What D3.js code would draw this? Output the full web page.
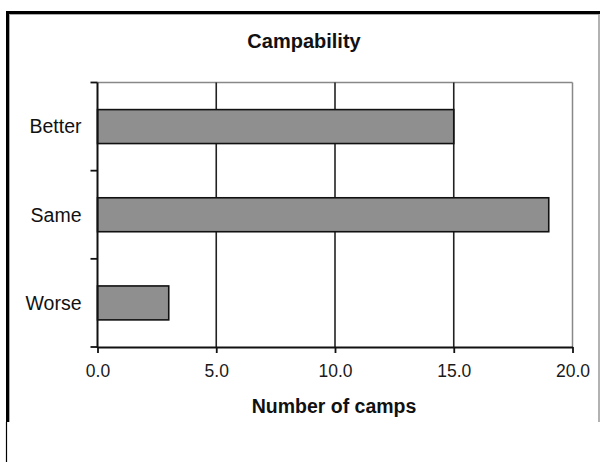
<!DOCTYPE html>
<html><head><meta charset="utf-8">
<script src="https://cdn.jsdelivr.net/npm/d3@7"></script>
<style>html,body{margin:0;padding:0;background:#fff;}svg{display:block;}text{font-family:"Liberation Sans",Arial,sans-serif;}</style>
</head><body>
<svg id="c" width="600" height="462"></svg>
<script>
const categories = ["Better", "Same", "Worse"];
const values = [15, 19, 3];
const xTicks = [0, 5, 10, 15, 20];
const title = "Campability";
const xTitle = "Number of camps";

const svg = d3.select("#c");
const m = {left: 97.5, right: 572.5, top: 82.5, bottom: 347};

// frame
svg.append("line").attr("x1", 6).attr("x2", 600).attr("y1", 12.5).attr("y2", 12.5).attr("stroke", "#000").attr("stroke-width", 3);
svg.append("line").attr("x1", 7.5).attr("x2", 7.5).attr("y1", 11).attr("y2", 422).attr("stroke", "#000").attr("stroke-width", 3);
svg.append("line").attr("x1", 9.5).attr("x2", 599).attr("y1", 14.5).attr("y2", 14.5).attr("stroke", "#aaa").attr("stroke-width", 1);
svg.append("line").attr("x1", 9.5).attr("x2", 9.5).attr("y1", 14).attr("y2", 422).attr("stroke", "#aaa").attr("stroke-width", 1);
svg.append("line").attr("x1", 599).attr("x2", 599).attr("y1", 14).attr("y2", 422).attr("stroke", "#999").attr("stroke-width", 1.5);
svg.append("line").attr("x1", 6.5).attr("x2", 6.5).attr("y1", 422).attr("y2", 462).attr("stroke", "#000").attr("stroke-width", 1.2);

const x = d3.scaleLinear().domain([0, 20]).range([m.left, m.right]);
const y = d3.scaleBand().domain(categories).range([m.top, m.bottom]).paddingInner(0.615).paddingOuter(0.3075);
const yb = d3.scaleBand().domain(categories).range([m.top, m.bottom]).padding(0);

// plot border top & right
svg.append("line").attr("x1", m.left).attr("x2", m.right).attr("y1", m.top).attr("y2", m.top).attr("stroke", "#888").attr("stroke-width", 1.5);
svg.append("line").attr("x1", m.right).attr("x2", m.right).attr("y1", m.top).attr("y2", m.bottom).attr("stroke", "#888").attr("stroke-width", 1.5);

// gridlines
svg.append("g").selectAll("line").data(xTicks.filter(d => d > 0 && d < 20)).join("line")
  .attr("x1", d => x(d)).attr("x2", d => x(d)).attr("y1", m.top).attr("y2", m.bottom)
  .attr("stroke", "#222").attr("stroke-width", 1.6);

// bars
svg.append("g").selectAll("rect").data(categories).join("rect")
  .attr("x", x(0)).attr("y", d => y(d)).attr("width", (d, i) => x(values[i]) - x(0)).attr("height", y.bandwidth())
  .attr("fill", "#8f8f8f").attr("stroke", "#111").attr("stroke-width", 1.6);

// x axis
const xAxis = svg.append("g").attr("transform", `translate(0,${m.bottom})`)
  .call(d3.axisBottom(x).tickValues(xTicks).tickFormat(d3.format(".1f")).tickSizeInner(6).tickSizeOuter(0).tickPadding(12));
xAxis.select(".domain").attr("stroke", "#111").attr("stroke-width", 2);
xAxis.selectAll(".tick line").attr("stroke", "#111").attr("stroke-width", 1.8);
xAxis.selectAll(".tick text").attr("font-size", 17.5).attr("fill", "#1a1a1a").attr("font-family", "Liberation Sans, Arial, sans-serif");

// y axis (category boundary ticks)
const yTickPos = categories.map(d => yb(d)).concat([m.bottom]);
svg.append("g").selectAll("line").data(yTickPos).join("line")
  .attr("x1", m.left - 7).attr("x2", m.left).attr("y1", d => d).attr("y2", d => d)
  .attr("stroke", "#111").attr("stroke-width", 1.8);
svg.append("line").attr("x1", m.left).attr("x2", m.left).attr("y1", m.top).attr("y2", m.bottom + 1)
  .attr("stroke", "#111").attr("stroke-width", 2);
svg.append("g").selectAll("text").data(categories).join("text")
  .attr("x", m.left - 16).attr("y", d => yb(d) + yb.bandwidth() / 2).attr("dy", "0.35em")
  .attr("text-anchor", "end").attr("font-size", 19.5).attr("fill", "#111").text(d => d);

// titles
svg.append("text").attr("x", 304).attr("y", 47.5).attr("text-anchor", "middle")
  .attr("font-size", 20).attr("font-weight", "bold").attr("fill", "#111").text(title);
svg.append("text").attr("x", 334).attr("y", 413).attr("text-anchor", "middle")
  .attr("font-size", 19.5).attr("font-weight", "bold").attr("fill", "#111").text(xTitle);
</script>
</body></html>
